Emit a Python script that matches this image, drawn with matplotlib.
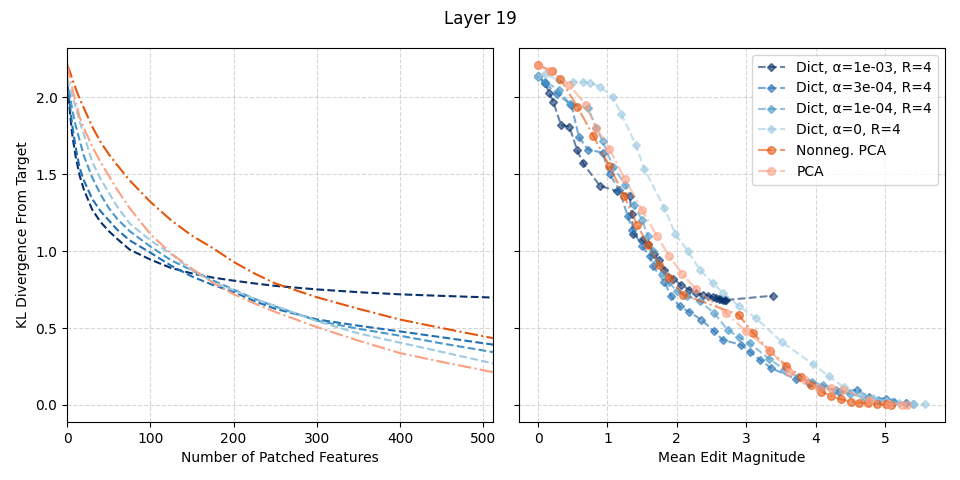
import numpy as np
import matplotlib
matplotlib.use("Agg")
from matplotlib import pyplot as plt

# ---- left panel: KL vs number of patched features ----
n_feat = [0, 3, 6, 10, 15, 20, 30, 40, 50, 60, 75, 100, 125, 150, 175,
          200, 225, 250, 300, 350, 400, 450, 512]
kl_dict_1e3 = [2.08, 1.92, 1.76, 1.62, 1.49, 1.40, 1.27, 1.19, 1.13, 1.08, 1.01,
               0.945, 0.89, 0.855, 0.828, 0.808, 0.79, 0.774, 0.751, 0.733,
               0.719, 0.709, 0.698]
kl_dict_3e4 = [2.10, 1.96, 1.82, 1.68, 1.54, 1.46, 1.34, 1.26, 1.20, 1.14, 1.07,
               0.99, 0.905, 0.835, 0.78, 0.735, 0.675, 0.625, 0.556, 0.515,
               0.478, 0.44, 0.392]
kl_dict_1e4 = [2.12, 2.02, 1.92, 1.82, 1.72, 1.62, 1.48, 1.37, 1.28, 1.21, 1.13,
               1.03, 0.94, 0.875, 0.81, 0.75, 0.69, 0.64, 0.548, 0.495, 0.45,
               0.40, 0.343]
kl_dict_0 = [2.12, 2.06, 2.01, 1.94, 1.84, 1.76, 1.58, 1.47, 1.38, 1.29, 1.18,
             1.07, 0.98, 0.875, 0.80, 0.745, 0.69, 0.645, 0.545, 0.465, 0.405,
             0.345, 0.27]
kl_nnpca = [2.21, 2.17, 2.12, 2.06, 1.99, 1.93, 1.81, 1.71, 1.63, 1.56, 1.46,
            1.32, 1.20, 1.10, 1.02, 0.93, 0.855, 0.79, 0.70, 0.625, 0.555,
            0.50, 0.434]
kl_pca = [2.21, 2.13, 2.06, 1.97, 1.87, 1.80, 1.68, 1.58, 1.49, 1.40, 1.28,
          1.11, 0.985, 0.885, 0.795, 0.72, 0.66, 0.605, 0.506, 0.418, 0.337,
          0.28, 0.213]

# ---- right panel: KL vs mean edit magnitude ----
mag_1e3 = [0.0, 0.10, 0.16, 0.22, 0.33, 0.45, 0.565, 0.65, 0.89, 1.14, 1.32,
           1.35, 1.37, 1.50, 1.585, 1.67, 1.74, 1.82, 1.95, 2.06, 2.18, 2.28,
           2.37, 2.45, 2.52, 2.57, 2.61, 2.64, 2.67, 2.69, 2.71, 3.38]
kl_1e3 = [2.14, 2.09, 2.03, 1.97, 1.82, 1.81, 1.655, 1.57, 1.425, 1.39, 1.36,
          1.24, 1.11, 1.07, 1.045, 0.98, 0.94, 0.88, 0.82, 0.78, 0.75, 0.73,
          0.716, 0.71, 0.70, 0.695, 0.69, 0.687, 0.685, 0.683, 0.682, 0.71]

mag_3e4 = [0.0, 0.10, 0.28, 0.48, 0.59, 0.72, 0.93, 1.03, 1.17, 1.29, 1.36,
           1.50, 1.61, 1.66, 1.82, 1.92, 2.04, 2.18, 2.35, 2.54, 2.66, 2.93,
           3.05, 3.20, 3.36, 3.72, 3.91, 4.08, 4.34, 4.60, 4.77, 5.01, 5.13,
           5.30]
kl_3e4 = [2.14, 2.09, 2.02, 1.95, 1.74, 1.66, 1.64, 1.50, 1.40, 1.23, 1.14,
          1.03, 0.97, 0.90, 0.80, 0.705, 0.64, 0.605, 0.555, 0.478, 0.423, 0.39,
          0.347, 0.293, 0.239, 0.167, 0.141, 0.115, 0.087, 0.098, 0.05, 0.04,
          0.022, 0.01]

mag_1e4 = [0.0, 0.10, 0.30, 0.46, 0.72, 0.84, 0.93, 1.08, 1.26, 1.38, 1.50,
           1.58, 1.65, 1.72, 1.80, 1.88, 2.0, 2.15, 2.33, 2.54, 2.73, 2.90,
           3.05, 3.33, 3.55, 3.75, 3.95, 4.10, 4.30, 4.50, 4.70, 4.90, 5.10,
           5.30, 5.40]
kl_1e4 = [2.13, 2.10, 2.05, 1.955, 1.93, 1.80, 1.715, 1.55, 1.43, 1.30, 1.20,
          1.10, 1.00, 0.93, 0.86, 0.80, 0.74, 0.71, 0.673, 0.597, 0.488, 0.44,
          0.40, 0.30, 0.23, 0.18, 0.15, 0.13, 0.10, 0.07, 0.05, 0.035, 0.02,
          0.01, 0.005]

mag_0 = [0.0, 0.10, 0.30, 0.50, 0.65, 0.75, 0.89, 1.08, 1.20, 1.41, 1.53,
         1.82, 1.98, 2.16, 2.33, 2.52, 2.67, 2.90, 3.14, 3.52, 3.96, 4.19,
         4.41, 4.65, 4.82, 5.01, 5.20, 5.42, 5.58]
kl_0 = [2.14, 2.15, 2.11, 2.10, 2.10, 2.095, 2.07, 2.0, 1.89, 1.69, 1.535,
        1.28, 1.11, 1.0, 0.88, 0.79, 0.727, 0.64, 0.565, 0.406, 0.267, 0.185,
        0.115, 0.065, 0.044, 0.026, 0.015, 0.006, 0.004]

mag_nnpca = [0.0, 0.20, 0.32, 0.565, 0.795, 1.025, 1.24, 1.43, 1.585, 1.75,
             1.89, 2.09, 2.89, 3.10, 3.34, 3.58, 3.79, 3.93, 4.08, 4.22, 4.36,
             4.51, 4.63, 4.75, 4.88, 5.01, 5.08]
kl_nnpca_r = [2.21, 2.17, 2.12, 1.94, 1.75, 1.555, 1.36, 1.17, 1.04, 0.91,
              0.825, 0.717, 0.586, 0.467, 0.35, 0.254, 0.184, 0.13, 0.087,
              0.059, 0.037, 0.022, 0.015, 0.011, 0.006, 0.004, 0.002]

mag_pca = [0.0, 0.17, 0.45, 0.69, 0.84, 1.025, 1.25, 1.50, 1.71, 1.89, 2.08,
           2.28, 2.71, 3.0, 3.33, 3.62, 3.84, 4.05, 4.22, 4.39, 4.77, 5.06,
           5.25, 5.32]
kl_pca_r = [2.21, 2.17, 2.08, 1.95, 1.80, 1.666, 1.47, 1.265, 1.10, 0.968,
            0.85, 0.752, 0.597, 0.478, 0.358, 0.217, 0.163, 0.11, 0.108, 0.10,
            0.033, 0.006, 0.002, 0.0]

dict_labels = ["Dict, α=1e-03, R=4", "Dict, α=3e-04, R=4",
               "Dict, α=1e-04, R=4", "Dict, α=0, R=4"]
dict_colors = ["#08306b", "#2171b5", "#4a98c9", "#9ecae1"]
orange = "#e6550d"
salmon = "#fca082"

fig, (ax1, ax2) = plt.subplots(1, 2, figsize=(9.6, 4.8), dpi=100, sharey=True)
fig.subplots_adjust(left=0.07, right=0.984, top=0.9, bottom=0.121, wspace=0.06)
fig.suptitle("Layer 19", fontsize=12)

# Left plot
left_kl = [kl_dict_1e3, kl_dict_3e4, kl_dict_1e4, kl_dict_0]
for kl, c in zip(left_kl, dict_colors):
    ax1.plot(n_feat, kl, color=c, linestyle="--", linewidth=1.5)
ax1.plot(n_feat, kl_nnpca, color=orange, linestyle="-.", linewidth=1.5)
ax1.plot(n_feat, kl_pca, color=salmon, linestyle="-.", linewidth=1.5)
ax1.set_xlim(0, 512)
ax1.set_xlabel("Number of Patched Features")
ax1.set_ylabel("KL Divergence From Target")
ax1.grid(linestyle="--", alpha=0.5)

# Right plot
right = [(mag_1e3, kl_1e3), (mag_3e4, kl_3e4), (mag_1e4, kl_1e4), (mag_0, kl_0)]
for (m, kl), c, lab in zip(right, dict_colors, dict_labels):
    ax2.plot(m, kl, color=c, linestyle="--", marker="D", markersize=4.5,
             alpha=0.6, linewidth=1.5, label=lab)
ax2.plot(mag_nnpca, kl_nnpca_r, color=orange, linestyle="-.", marker="o",
         markersize=5.5, alpha=0.6, linewidth=1.5, label="Nonneg. PCA")
ax2.plot(mag_pca, kl_pca_r, color=salmon, linestyle="-.", marker="o",
         markersize=5.5, alpha=0.6, linewidth=1.5, label="PCA")
ax2.set_xlabel("Mean Edit Magnitude")
ax2.grid(linestyle="--", alpha=0.5)
ax2.legend(loc="upper right")

fig.savefig("out.png")
